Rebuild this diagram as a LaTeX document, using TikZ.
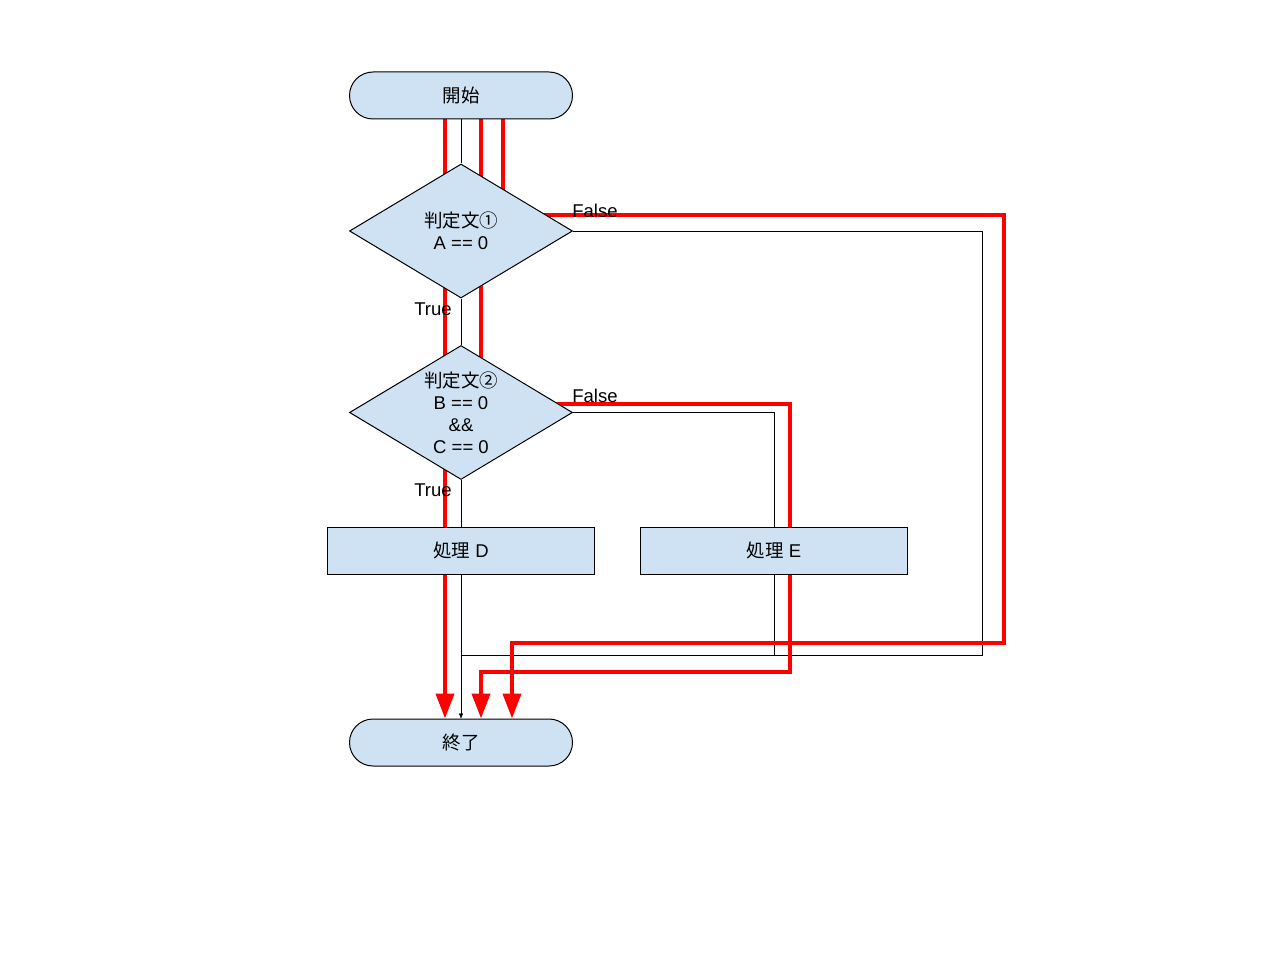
\documentclass[tikz,border=0pt]{standalone}
\usepackage{fontspec}
\setmainfont{Liberation Sans}
\newfontfamily\cjk{Noto Sans CJK JP}
\usetikzlibrary{shapes.geometric,arrows.meta,backgrounds}
\definecolor{boxblue}{HTML}{CFE2F3}
\tikzset{
        terminal/.style={draw,fill=boxblue,rounded corners=23.5pt,minimum width=223pt,minimum height=47pt},
        decision/.style={draw,fill=boxblue,shape=diamond,aspect=1.664,minimum width=223pt,minimum height=134pt,inner sep=0pt,align=center},
        procbox/.style={draw,fill=boxblue,minimum width=267pt,minimum height=47pt},
        redline/.style={draw=red,line width=4pt},
        redarrow/.style={redline,-{Triangle[length=25pt,width=18pt]}}
}
\begin{document}
\begin{tikzpicture}[x=1pt,y=-1pt,line width=1pt,font=\fontsize{18.5}{22}\selectfont]
        \useasboundingbox (0,0) rectangle (1280,960);
        \node[terminal] (start) at (461,95.5) {\cjk 開始};
        \node[decision] (done) at (461,231) {{\cjk 判定文①}\\A == 0};
        \node[decision] (dtwo) at (461,412.5) {{\cjk 判定文②}\\B == 0\\\&\&\\C == 0};
        \node[procbox] (procd) at (461,550.5) {{\cjk 処理} D};
        \node[procbox] (proce) at (774,550.5) {{\cjk 処理} E};
        \node[terminal] (stop) at (461,742.5) {\cjk 終了};
        \node (fone) at (595,211) {False};
        \node (ftwo) at (595,396) {False};
        \node (tone) at (433,309) {True};
        \node (ttwo) at (433,490) {True};
        \begin{scope}[on background layer]
        \coordinate (merge) at (461,655);
        \coordinate (bjoin) at (481,672);
        \coordinate (cjoin) at (512,643);
        \draw (start) -- (done);
        \draw (done) -- (dtwo);
        \draw (dtwo) -- (procd);
        \draw (done.east) -- ++(409,0) |- (merge);
        \draw (dtwo.east) -| (proce.north);
        \draw (proce.south) -- (proce.south |- merge);
        \draw[-{Triangle[length=5pt,width=4pt]}] (procd.south) -- (stop.north);
        \draw[redarrow] ([xshift=-16pt]start.south) -- ([xshift=-16pt]stop.north);
        \draw[redline] ([xshift=20pt]start.south) |- ([yshift=9pt]dtwo.east) -| ([xshift=16pt]proce.north);
        \draw[redarrow] ([xshift=16pt]proce.south) |- (bjoin) -- ([xshift=20pt]stop.north);
        \draw[redarrow] ([xshift=42pt]start.south) |- ([yshift=16pt]done.east) -- ++(431,0) |- (cjoin) -- ([xshift=51pt]stop.north);
        \end{scope}
\end{tikzpicture}
\end{document}
